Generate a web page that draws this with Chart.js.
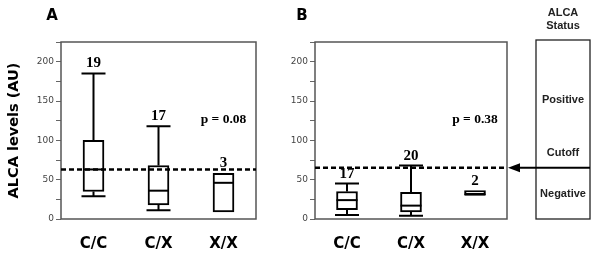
<!DOCTYPE html>
<html>
<head>
<meta charset="utf-8">
<script src="https://cdn.jsdelivr.net/npm/chart.js@4.4.1/dist/chart.umd.min.js"></script>
<style>
  html, body { margin: 0; padding: 0; background: #fff; }
  #wrap { position: relative; width: 600px; height: 253px; overflow: hidden; }
  canvas { position: absolute; top: 0; }
</style>
</head>
<body>
<div id="wrap">
  <canvas id="chartA" width="270" height="253" style="left:0"></canvas>
  <canvas id="chartB" width="330" height="253" style="left:270px"></canvas>
</div>
<script>
// genotype groups
const categories = ['C/C', 'C/X', 'X/X'];

// panel A: box plot values (AU)
const aLow = [29, 11, null];
const aQ1 = [35, 18, 9];
const aMedian = [63, 36, 46];
const aQ3 = [100, 68, 58];
const aHigh = [185, 118, null];
const aCounts = [19, 17, 3];

// panel B: box plot values (AU)
const bLow = [5, 4, null];
const bQ1 = [12, 9, 31];
const bMedian = [24, 17, 31];
const bQ3 = [35, 34, 36];
const bHigh = [45, 68, null];
const bCounts = [17, 20, 2];

const cutoffA = 63;
const cutoffB = 65;
const pTexts = ['p = 0.08', 'p = 0.38'];
const pAt = 127;
const yTickValues = [0, 50, 100, 150, 200];
const statusTitle = ['ALCA', 'Status'];
const statusLabels = ['Positive', 'Cutoff', 'Negative'];

// draws whiskers, medians, n labels, cutoff line and frame
const boxDecor = {
    id: 'boxDecor',
    afterDatasetsDraw(chart, args, o) {
        const ctx = chart.ctx;
        const x = chart.scales.x, y = chart.scales.y;
        const a = chart.chartArea;
        ctx.save();

        // frame
        ctx.strokeStyle = '#555';
        ctx.lineWidth = 1.5;
        ctx.strokeRect(a.left, a.top, a.right - a.left, a.bottom - a.top);

        ctx.strokeStyle = '#000';
        ctx.lineWidth = 2;
        const half = 10.5, cap = 12;
        for (let i = 0; i < categories.length; i++) {
            const cx = x.getPixelForValue(i);
            if (o.high[i] != null) {
                ctx.beginPath();
                ctx.moveTo(cx, y.getPixelForValue(o.q3[i]));
                ctx.lineTo(cx, y.getPixelForValue(o.high[i]));
                ctx.moveTo(cx - cap, y.getPixelForValue(o.high[i]));
                ctx.lineTo(cx + cap, y.getPixelForValue(o.high[i]));
                ctx.moveTo(cx, y.getPixelForValue(o.q1[i]));
                ctx.lineTo(cx, y.getPixelForValue(o.low[i]));
                ctx.moveTo(cx - cap, y.getPixelForValue(o.low[i]));
                ctx.lineTo(cx + cap, y.getPixelForValue(o.low[i]));
                ctx.stroke();
            }
            ctx.beginPath();
            ctx.moveTo(cx - half, y.getPixelForValue(o.median[i]));
            ctx.lineTo(cx + half, y.getPixelForValue(o.median[i]));
            ctx.stroke();

            // n label
            const top = o.high[i] != null ? o.high[i] : o.q3[i];
            ctx.fillStyle = '#000';
            ctx.font = 'bold 15px "Liberation Serif"';
            ctx.textAlign = 'center';
            ctx.textBaseline = 'alphabetic';
            ctx.fillText(String(o.counts[i]), cx, y.getPixelForValue(top) - 6);
        }

        // cutoff
        const cy = y.getPixelForValue(o.cutoff);
        ctx.setLineDash([5, 3]);
        ctx.lineWidth = 2.5;
        ctx.beginPath();
        ctx.moveTo(a.left, cy);
        ctx.lineTo(a.right, cy);
        ctx.stroke();
        ctx.setLineDash([]);

        // p value
        ctx.font = 'bold 13.5px "Liberation Serif"';
        ctx.textAlign = 'center';
        ctx.textBaseline = 'middle';
        ctx.fillText(o.pText, x.getPixelForValue(2), y.getPixelForValue(pAt));

        // panel letter
        ctx.font = 'bold 15px "DejaVu Sans"';
        ctx.fillText(o.letter, o.letterX, 16);

        if (o.status) {
            const bx = a.right + 29, bw = 54, by = 40;
            ctx.strokeStyle = '#222';
            ctx.lineWidth = 1.3;
            ctx.strokeRect(bx, by, bw, a.bottom - by);
            ctx.fillStyle = '#222';
            ctx.font = 'bold 11px "Liberation Sans"';
            const mx = bx + bw / 2;
            ctx.fillText(statusTitle[0], mx, 13);
            ctx.fillText(statusTitle[1], mx, 26);
            ctx.fillText(statusLabels[0], mx, 100);
            ctx.fillText(statusLabels[1], mx, 153);
            ctx.fillText(statusLabels[2], mx, 194);

            // arrow
            ctx.strokeStyle = '#000';
            ctx.lineWidth = 2;
            ctx.beginPath();
            ctx.moveTo(bx + bw, cy);
            ctx.lineTo(a.right + 10, cy);
            ctx.stroke();
            ctx.fillStyle = '#000';
            ctx.beginPath();
            ctx.moveTo(a.right + 1, cy);
            ctx.lineTo(a.right + 13, cy - 4.5);
            ctx.lineTo(a.right + 13, cy + 4.5);
            ctx.closePath();
            ctx.fill();
        }
        ctx.restore();
    }
};

function makeChart(id, q1, q3, deco, yWidth, padRight, showTitle) {
    return new Chart(document.getElementById(id), {
        type: 'bar',
        data: {
            labels: categories,
            datasets: [{
                data: q1.map((v, i) => [v, q3[i]]),
                backgroundColor: '#fff',
                borderColor: '#000',
                borderWidth: 2,
                borderSkipped: false,
                barThickness: 21
            }]
        },
        options: {
            responsive: false,
            animation: false,
            devicePixelRatio: 1,
            layout: { padding: { top: 42, right: padRight, bottom: 0, left: 0 } },
            plugins: {
                legend: { display: false },
                tooltip: { enabled: false },
                boxDecor: deco
            },
            scales: {
                x: {
                    grid: { display: false },
                    border: { display: false },
                    ticks: {
                        color: '#000',
                        padding: 8,
                        font: { family: 'DejaVu Sans', weight: 'bold', size: 15 }
                    },
                    afterFit: s => { s.height = 34; }
                },
                y: {
                    min: 0,
                    max: 225,
                    border: { display: false },
                    grid: { drawOnChartArea: false, drawTicks: true, tickLength: 5, color: '#666' },
                    ticks: {
                        stepSize: 25,
                        padding: 2,
                        color: '#444',
                        font: { family: 'DejaVu Sans', size: 9 },
                        callback: v => yTickValues.includes(v) ? v : ''
                    },
                    title: {
                        display: showTitle,
                        text: 'ALCA levels (AU)',
                        color: '#000',
                        padding: { top: 6 },
                        font: { family: 'DejaVu Sans', weight: 'bold', size: 14.5 }
                    },
                    afterFit: s => { s.width = yWidth; }
                }
            }
        },
        plugins: [boxDecor]
    });
}

makeChart('chartA', aQ1, aQ3, {
    low: aLow, q1: aQ1, median: aMedian, q3: aQ3, high: aHigh, counts: aCounts,
    cutoff: cutoffA, pText: pTexts[0], letter: 'A', letterX: 52, status: false
}, 61, 14, true);

makeChart('chartB', bQ1, bQ3, {
    low: bLow, q1: bQ1, median: bMedian, q3: bQ3, high: bHigh, counts: bCounts,
    cutoff: cutoffB, pText: pTexts[1], letter: 'B', letterX: 32, status: true
}, 45, 93, false);
</script>
</body>
</html>
